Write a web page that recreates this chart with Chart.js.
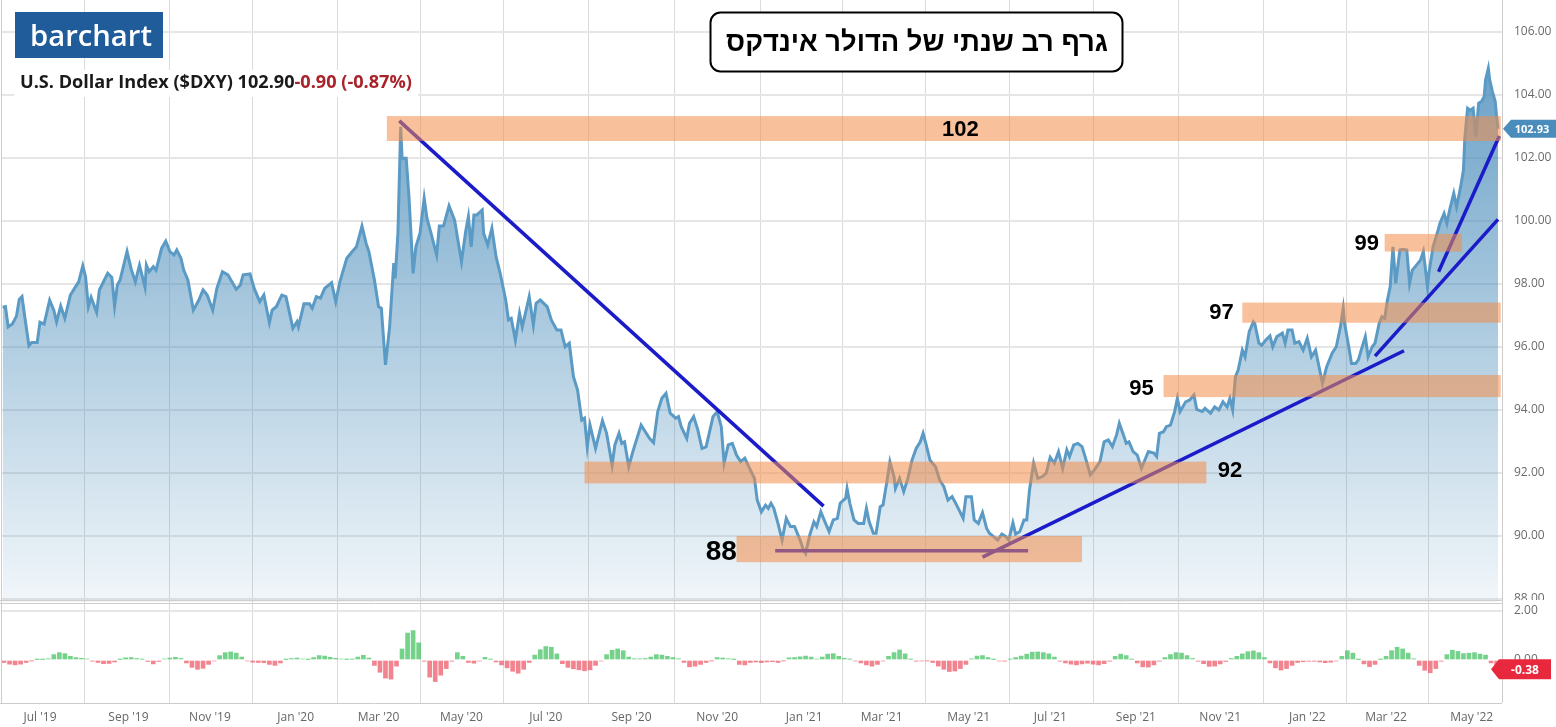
<!DOCTYPE html>
<html>
<head>
<meta charset="utf-8">
<script src="https://cdn.jsdelivr.net/npm/chart.js@4.4.1/dist/chart.umd.min.js"></script>
<style>
html,body{margin:0;padding:0;background:#fff;}
#wrap{position:relative;width:1556px;height:727px;}
canvas{display:block;}
</style>
</head>
<body>
<div id="wrap"><canvas id="c" width="1556" height="727"></canvas></div>
<script>
// ---------------- DATA ----------------
// time axis: days since 2019-07-01
const BASE_DATE = '2019-07-01';

// U.S. Dollar Index ($DXY) — sample days and closing values
const seriesDays = [
  -27,-25,-23,-20,-17,-15,-13,-11,-8,-6,
  -2,0,3,7,10,12,15,18,22,25,
  28,31,33,35,37,41,43,49,52,54,
  56,58,63,66,69,72,76,77,79,82,
  84,88,91,94,97,99,102,104,107,111,
  115,118,121,125,128,132,136,142,145,147,
  152,155,159,162,166,168,171,175,178,183,
  186,187,191,195,197,200,203,206,211,214,
  217,222,226,229,233,236,238,242,245,247,
  250,253,256,257,259,261,262,265,267,270,
  272,275,278,280,283,287,289,292,296,300,
  305,308,310,312,314,316,320,321,324,327,
  330,333,337,339,341,344,347,349,354,357,
  359,362,367,370,374,377,380,383,386,389,
  392,394,396,398,402,407,410,414,416,419,
  421,423,426,429,435,438,441,444,447,450,
  453,456,460,462,464,468,470,473,476,479,
  482,487,490,493,495,498,501,504,507,510,
  514,517,519,522,525,527,529,531,534,537,
  540,543,546,550,552,554,557,560,562,565,
  568,571,574,577,579,583,584,586,589,592,
  596,598,600,603,605,608,610,613,615,618,
  619,622,625,628,631,634,637,639,641,644,
  648,651,654,657,660,662,665,668,670,674,
  676,679,682,685,687,690,693,696,699,701,
  704,706,709,712,714,716,719,722,725,728,
  731,734,737,740,743,745,748,751,754,757,
  760,763,767,770,773,776,779,781,784,786,
  788,791,794,797,800,802,806,808,810,813,
  815,818,821,823,825,829,832,835,837,841,
  843,847,850,853,856,859,861,863,865,867,
  870,872,875,878,879,882,884,887,890,892,
  895,899,901,903,906,908,911,914,917,920,
  923,926,928,931,935,938,941,943,944,947,
  949,952,954,956,959,961,964,966,969,971,
  973,975,977,979,981,984,986,989,991,993,
  996,999,1001,1004,1005,1008,1011,1013,1016,1018,
  1020,1023,1025,1028,1030,1031,1033,1035,1037,1039,
  1041,1043,1045,1046,1048,1049,1051,1053,1054,1055
];
const dxyValues = [
  97.26,97.28,96.64,96.73,96.98,97.51,97.60,96.96,96.04,96.14,
  96.14,96.79,96.73,97.49,97.17,96.80,97.30,96.91,97.65,97.86,
  98.07,98.58,98.23,97.28,97.58,97.10,97.81,98.34,98.21,97.30,
  97.97,98.13,99.03,98.47,98.07,98.60,97.90,98.60,98.39,98.55,
  98.44,99.13,99.36,99.03,98.92,99.08,98.82,98.44,98.13,97.17,
  97.49,97.81,97.65,97.17,97.86,98.39,98.29,97.83,97.97,98.29,
  98.32,97.86,97.44,97.65,96.77,97.17,97.28,97.65,97.60,96.59,
  96.80,96.64,97.37,97.37,97.23,97.60,97.55,97.86,98.04,97.44,
  98.07,98.82,99.03,99.18,99.84,99.29,99.03,98.13,97.28,97.23,
  95.43,96.64,98.66,98.18,99.61,102.99,101.99,101.99,100.77,98.34,
  99.18,99.61,100.72,100.09,99.61,98.92,99.84,99.84,100.48,100.03,
  98.71,99.66,100.14,99.18,100.19,100.19,100.35,99.61,99.24,99.77,
  98.87,98.34,97.49,96.86,96.91,96.22,97.07,96.64,97.60,96.70,
  97.39,97.49,97.28,96.86,96.54,96.54,96.01,96.12,95.06,94.63,
  93.68,93.74,92.84,93.52,92.78,93.66,93.26,92.25,92.89,93.26,
  92.94,92.99,92.20,92.68,93.52,93.31,93.10,92.96,93.95,94.37,
  94.53,93.90,93.74,93.79,93.47,93.10,93.58,93.79,93.37,92.78,
  92.83,93.79,93.95,93.47,92.31,92.89,92.94,92.57,92.36,92.47,
  92.10,91.83,91.14,90.77,90.98,90.88,91.04,90.88,90.40,89.87,
  90.56,90.30,90.30,89.87,89.61,89.45,90.03,90.45,90.30,90.77,
  90.45,90.14,90.51,90.56,91.04,91.20,91.51,91.04,90.51,90.40,
  90.40,90.88,90.45,90.09,90.09,90.93,90.98,91.78,92.36,91.88,
  91.51,91.83,91.41,91.83,92.41,92.78,92.99,93.26,92.94,92.41,
  92.20,91.78,91.57,91.14,91.25,91.09,90.83,90.56,91.25,91.25,
  90.51,90.40,90.74,90.24,90.09,89.98,89.87,90.06,89.98,89.87,
  90.42,90.06,90.14,90.51,90.51,91.46,92.31,91.83,91.88,91.99,
  92.50,92.31,92.68,92.15,92.73,92.52,92.89,92.94,92.84,92.41,
  91.94,92.10,92.36,92.99,93.05,92.84,93.21,93.58,93.21,92.94,
  92.99,92.68,92.57,92.15,92.47,92.68,92.63,92.52,93.26,93.31,
  93.47,93.52,93.95,94.37,93.95,94.26,94.32,94.48,94.02,93.95,
  94.05,93.90,94.10,94.00,94.26,94.10,94.37,94.00,95.06,95.27,
  95.90,95.69,96.49,96.80,96.75,96.12,96.06,96.22,96.35,96.01,
  96.33,96.44,96.12,96.54,96.54,96.12,96.17,95.90,96.28,95.69,
  95.90,95.27,94.85,95.37,95.80,96.01,96.64,97.23,96.75,96.01,
  95.48,95.48,95.59,95.90,96.33,95.69,96.01,96.12,96.75,96.96,
  96.91,97.49,97.91,99.18,98.02,99.08,99.10,99.08,98.02,98.44,
  98.60,98.76,99.03,97.91,98.34,99.18,99.61,99.93,100.24,99.93,
  100.35,100.88,100.45,101.09,101.62,102.63,103.58,103.52,103.58,102.68,
  103.74,103.79,103.95,104.48,104.85,104.48,104.10,103.79,103.31,102.93
];

// lower pane oscillator histogram
const histDays = [
  -26,-22,-18,-14,-10,-6,-2,2,6,10,
  14,18,22,26,30,34,38,42,46,50,
  54,58,62,66,70,74,78,82,86,90,
  94,98,102,106,110,114,118,122,126,130,
  134,138,142,146,150,154,158,162,166,170,
  174,178,182,186,190,194,198,202,206,210,
  214,218,222,226,230,234,238,242,246,250,
  254,258,262,266,270,274,278,282,286,290,
  294,298,302,306,310,314,318,322,326,330,
  334,338,342,346,350,354,358,362,366,370,
  374,378,382,386,390,394,398,402,406,410,
  414,418,422,426,430,434,438,442,446,450,
  454,458,462,466,470,474,478,482,486,490,
  494,498,502,506,510,514,518,522,526,530,
  534,538,542,546,550,554,558,562,566,570,
  574,578,582,586,590,594,598,602,606,610,
  614,618,622,626,630,634,638,642,646,650,
  654,658,662,666,670,674,678,682,686,690,
  694,698,702,706,710,714,718,722,726,730,
  734,738,742,746,750,754,758,762,766,770,
  774,778,782,786,790,794,798,802,806,810,
  814,818,822,826,830,834,838,842,846,850,
  854,858,862,866,870,874,878,882,886,890,
  894,898,902,906,910,914,918,922,926,930,
  934,938,942,946,950,954,958,962,966,970,
  974,978,982,986,990,994,998,1002,1006,1010,
  1014,1018,1022,1026,1030,1034,1038,1042,1046,1050,
  1054
];
const histValues = [
  -0.10,-0.17,-0.20,-0.17,-0.10,-0.03,0.02,0.02,0.05,0.22,
  0.30,0.26,0.15,0.10,0.07,0.04,-0.05,-0.10,-0.15,-0.14,
  -0.08,0.02,0.09,0.10,0.06,0.03,-0.06,-0.16,-0.06,0.04,
  0.08,0.11,0.06,-0.12,-0.30,-0.38,-0.34,-0.18,-0.04,0.18,
  0.30,0.33,0.28,0.12,-0.04,-0.09,-0.10,-0.11,-0.18,-0.22,
  -0.12,0.02,0.06,0.08,0.04,0.02,0.10,0.18,0.16,0.11,
  0.07,0.04,0.02,0.03,0.12,0.19,0.08,-0.22,-0.50,-0.74,
  -0.78,-0.25,0.45,1.10,1.20,0.70,-0.05,-0.70,-0.88,-0.62,
  -0.35,-0.05,0.30,0.15,-0.10,-0.13,-0.04,0.11,0.03,-0.08,
  -0.20,-0.32,-0.46,-0.54,-0.38,-0.10,0.20,0.42,0.55,0.52,
  0.25,-0.15,-0.30,-0.36,-0.40,-0.44,-0.40,-0.22,-0.04,0.22,
  0.40,0.45,0.38,0.12,0.05,0.05,0.06,0.12,0.22,0.20,
  0.15,0.10,0.05,-0.10,-0.28,-0.25,-0.18,-0.10,-0.03,0.10,
  0.08,0.05,0.02,-0.18,-0.20,-0.10,-0.08,-0.11,-0.08,-0.07,
  -0.10,-0.03,0.09,0.10,0.13,0.16,0.12,0.04,0.12,0.24,
  0.26,0.15,0.07,0.03,-0.04,-0.12,-0.20,-0.25,-0.18,-0.04,
  0.15,0.30,0.41,0.25,0.03,-0.05,-0.04,-0.03,-0.10,-0.25,
  -0.38,-0.47,-0.45,-0.35,-0.18,0.05,0.16,0.18,0.10,0.02,
  -0.04,-0.05,0.03,0.10,0.16,0.24,0.32,0.33,0.30,0.25,
  0.12,-0.05,-0.12,-0.17,-0.20,-0.16,-0.13,-0.17,-0.20,-0.15,
  -0.05,0.15,0.24,0.18,0.03,-0.12,-0.28,-0.29,-0.20,-0.05,
  0.10,0.22,0.30,0.28,0.18,0.06,-0.05,-0.15,-0.26,-0.25,
  -0.16,-0.06,0.06,0.15,0.25,0.34,0.37,0.30,0.10,-0.12,
  -0.32,-0.41,-0.35,-0.22,-0.10,-0.07,-0.05,-0.05,-0.08,-0.11,
  -0.09,-0.04,0.15,0.38,0.28,0.02,-0.16,-0.27,-0.18,0.02,
  0.15,0.38,0.52,0.45,0.28,0.05,-0.22,-0.42,-0.52,-0.35,
  -0.05,0.22,0.40,0.35,0.26,0.28,0.30,0.24,0.20,-0.12,
  -0.38
];

// axis ticks
const tickDates = ['2019-07-01','2019-09-03','2019-11-01','2020-01-02','2020-03-02','2020-05-01',
  '2020-07-01','2020-09-01','2020-11-02','2021-01-04','2021-03-01','2021-05-03',
  '2021-07-01','2021-09-01','2021-11-01','2022-01-03','2022-03-01','2022-05-02'];
const tickLabels = ["Jul '19","Sep '19","Nov '19","Jan '20","Mar '20","May '20",
  "Jul '20","Sep '20","Nov '20","Jan '21","Mar '21","May '21",
  "Jul '21","Sep '21","Nov '21","Jan '22","Mar '22","May '22"];
const priceTicks = [88, 90, 92, 94, 96, 98, 100, 102, 104, 106];
const histTicks = [0, 2];

// support / resistance zones
const zoneLabels = ['102', '92', '88', '95', '97', '99'];
const zoneStartDay = [251, 394, 504, 813, 870, 973];
const zoneEndDay = [1057, 844, 754, 1057, 1057, 1029];
const zoneLow = [102.54, 91.67, 89.17, 94.41, 96.77, 99.03];
const zoneHigh = [103.33, 92.36, 90.00, 95.11, 97.41, 99.59];
// zone label anchors (data coordinates)
const zoneLabelDay = [666, 861, 493, 797, 855, 960];
const zoneLabelValue = [102.92, 92.10, 89.52, 94.70, 97.10, 99.30];

// hand-drawn trend lines
const trendFromDay = [260, 532, 682, 966, 1012];
const trendFromValue = [103.18, 89.53, 89.33, 95.71, 98.39];
const trendToDay = [567, 715, 987, 1055, 1056];
const trendToValue = [90.95, 89.53, 95.88, 100.05, 102.70];

const lastPrice = 102.93;
const lastHist = -0.38;
const titleText = 'גרף רב שנתי של הדולר אינדקס';
const symbolText = 'U.S. Dollar Index ($DXY) 102.90';
const changeText = '-0.90 (-0.87%)';

// ---------------- CHART ----------------
const dayMs = 86400000;
const baseMs = Date.parse(BASE_DATE + 'T00:00:00Z');
const tickDays = tickDates.map(d => Math.round((Date.parse(d + 'T00:00:00Z') - baseMs) / dayMs));

const FONT = '"Open Sans", "Liberation Sans", sans-serif';
const BOLDFONT = '"Liberation Sans", Arial, sans-serif';

const lineData = seriesDays.map((d, i) => ({x: d, y: dxyValues[i]}));
const histData = histDays.map((d, i) => ({x: d, y: histValues[i]}));

const trendSets = trendFromDay.map((d, i) => ({
  type: 'line',
  data: [{x: d, y: trendFromValue[i]}, {x: trendToDay[i], y: trendToValue[i]}],
  borderColor: '#1b1bc9',
  borderWidth: 3.5,
  pointRadius: 0,
  fill: false,
  yAxisID: 'y',
  order: 0
}));

function fitFont(c, text, weight, size, family, target) {
  c.font = weight + ' ' + size + 'px ' + family;
  const w = c.measureText(text).width;
  const s = size * target / w;
  c.font = weight + ' ' + s.toFixed(2) + 'px ' + family;
}

const overlay = {
  id: 'overlay',
  beforeDraw(chart) {
    const c = chart.ctx;
    c.save();
    c.fillStyle = '#ffffff';
    c.fillRect(0, 0, chart.width, chart.height);
    c.restore();
  },
  afterDatasetsDraw(chart) {
    const c = chart.ctx;
    const {x, y} = chart.scales;
    const area = chart.chartArea;
    c.save();
    c.beginPath();
    c.rect(area.left, y.top, area.right - area.left, y.bottom - y.top);
    c.clip();
    c.fillStyle = 'rgba(242,140,72,0.55)';
    zoneLabels.forEach((lab, i) => {
      const x0 = x.getPixelForValue(zoneStartDay[i]);
      const x1 = x.getPixelForValue(zoneEndDay[i]);
      const y0 = y.getPixelForValue(zoneHigh[i]);
      const y1 = y.getPixelForValue(zoneLow[i]);
      c.fillRect(x0, y0, x1 - x0, y1 - y0);
    });
    c.fillStyle = '#000';
    c.textAlign = 'center';
    c.textBaseline = 'middle';
    zoneLabels.forEach((lab, i) => {
      const size = lab === '88' ? 28 : 22;
      c.font = 'bold ' + size + 'px ' + BOLDFONT;
      c.fillText(lab, x.getPixelForValue(zoneLabelDay[i]), y.getPixelForValue(zoneLabelValue[i]) + 1);
    });
    c.restore();
  },
  afterDraw(chart) {
    const c = chart.ctx;
    const {x, y, y2} = chart.scales;
    const area = chart.chartArea;
    c.save();
    // pane separator
    c.fillStyle = '#ffffff';
    c.fillRect(area.right + 1, y.bottom - 2, chart.width - area.right, 5);
    c.strokeStyle = '#cfcfcf';
    c.lineWidth = 1;
    c.beginPath();
    c.moveTo(0, y.bottom - 1.5); c.lineTo(area.right, y.bottom - 1.5);
    c.moveTo(0, y.bottom + 1.5); c.lineTo(area.right, y.bottom + 1.5);
    c.stroke();
    // frame
    c.strokeStyle = '#cccccc';
    c.beginPath();
    c.moveTo(area.right + 0.5, 0); c.lineTo(area.right + 0.5, area.bottom);
    c.moveTo(0, area.bottom + 0.5); c.lineTo(area.right, area.bottom + 0.5);
    c.moveTo(1.5, 0); c.lineTo(1.5, area.bottom);
    c.stroke();

    // logo
    c.fillStyle = '#1f5c99';
    c.fillRect(15, 12, 148, 46);
    c.fillStyle = '#ffffff';
    c.textAlign = 'left';
    c.textBaseline = 'alphabetic';
    fitFont(c, 'barchart', '600', 31, FONT, 122);
    c.fillText('barchart', 30, 46);

    // symbol line
    c.fillStyle = '#ffffff';
    c.fillRect(14, 70, 404, 27);
    fitFont(c, symbolText + changeText, '700', 16, FONT, 392);
    c.textBaseline = 'middle';
    c.fillStyle = '#1a1a1a';
    c.fillText(symbolText, 20, 83);
    const w1 = c.measureText(symbolText).width;
    c.fillStyle = '#a8232a';
    c.fillText(changeText, 20 + w1, 83);

    // title box
    c.fillStyle = '#ffffff';
    c.strokeStyle = '#000000';
    c.lineWidth = 2;
    c.beginPath();
    c.roundRect(710.5, 12.5, 412, 59, 10);
    c.fill();
    c.stroke();
    c.fillStyle = '#000';
    c.textAlign = 'center';
    c.textBaseline = 'middle';
    c.direction = 'rtl';
    fitFont(c, titleText, 'bold', 28, BOLDFONT, 382);
    c.fillText(titleText, 917, 43);
    c.direction = 'ltr';

    // last price badge
    const py = y.getPixelForValue(lastPrice);
    c.fillStyle = '#4a8dbd';
    c.beginPath();
    c.moveTo(area.right + 1, py);
    c.lineTo(area.right + 9, py - 9);
    c.lineTo(chart.width, py - 9);
    c.lineTo(chart.width, py + 9);
    c.lineTo(area.right + 9, py + 9);
    c.closePath();
    c.fill();
    c.fillStyle = '#fff';
    c.font = 'bold 11px ' + FONT;
    c.textAlign = 'center';
    c.fillText(lastPrice.toFixed(2), 1532, py + 1);

    // last histogram badge
    const hy = y2.getPixelForValue(lastHist);
    c.fillStyle = '#e8283c';
    c.beginPath();
    c.moveTo(area.right - 11, hy);
    c.lineTo(area.right - 3, hy - 10);
    c.lineTo(1551, hy - 10);
    c.lineTo(1551, hy + 10);
    c.lineTo(area.right - 3, hy + 10);
    c.closePath();
    c.fill();
    c.fillStyle = '#fff';
    c.font = 'bold 12px ' + FONT;
    c.fillText(lastHist.toFixed(2), 1525, hy + 1);
    c.restore();
  }
};

const tickFont = {family: FONT, size: 12};

new Chart(document.getElementById('c'), {
  type: 'line',
  data: {
    datasets: [
      ...trendSets,
      {
        type: 'bar',
        data: histData,
        backgroundColor: histValues.map(v => v >= 0 ? 'rgba(70,195,100,0.75)' : 'rgba(236,84,100,0.72)'),
        barThickness: 4,
        yAxisID: 'y2',
        order: 1
      },
      {
        type: 'line',
        data: lineData,
        borderColor: '#5a9ac4',
        borderWidth: 3,
        pointRadius: 0,
        tension: 0,
        fill: 'start',
        backgroundColor: (ctx) => {
          const ch = ctx.chart;
          if (!ch.chartArea || !ch.scales.y) return 'rgba(70,138,185,0.4)';
          const sy = ch.scales.y;
          const g = ch.ctx.createLinearGradient(0, sy.getPixelForValue(105), 0, sy.getPixelForValue(88));
          g.addColorStop(0, 'rgba(70,138,185,0.80)');
          g.addColorStop(1, 'rgba(70,138,185,0.08)');
          return g;
        },
        yAxisID: 'y',
        order: 2
      }
    ]
  },
  options: {
    responsive: false,
    animation: false,
    devicePixelRatio: 1,
    layout: {padding: {left: 1, right: 0, top: 0, bottom: 0}},
    plugins: {legend: {display: false}, tooltip: {enabled: false}},
    scales: {
      x: {
        type: 'linear',
        min: -28.2,
        max: 1057.9,
        offset: false,
        afterBuildTicks: s => { s.ticks = tickDays.map(v => ({value: v})); },
        afterFit: s => { s.height = 24; s.paddingLeft = 0; s.paddingRight = 0; },
        grid: {color: 'rgba(0,0,0,0.14)', lineWidth: 1, drawTicks: false},
        border: {display: false},
        ticks: {
          autoSkip: false, maxRotation: 0, padding: 7, color: '#666666', font: tickFont,
          callback: (v, i) => tickLabels[i]
        }
      },
      y: {
        type: 'linear',
        position: 'right',
        stack: 'panes',
        stackWeight: 602,
        min: 87.905,
        max: 107.016,
        afterBuildTicks: s => { s.ticks = priceTicks.map(v => ({value: v})); },
        afterFit: s => { s.width = 54; s.paddingTop = 0; s.paddingBottom = 0; },
        grid: {color: '#e6e6e6', lineWidth: 2, drawTicks: false},
        border: {display: false},
        ticks: {padding: 12, color: '#6b6b6b', font: tickFont, callback: v => Number(v).toFixed(2)}
      },
      y2: {
        type: 'linear',
        position: 'right',
        stack: 'panes',
        stackWeight: 101,
        min: -1.755,
        max: 2.367,
        afterBuildTicks: s => { s.ticks = histTicks.map(v => ({value: v})); },
        afterFit: s => { s.width = 54; s.paddingTop = 0; s.paddingBottom = 0; },
        grid: {
          color: ctx => (ctx.tick && ctx.tick.value === 2) ? '#e6e6e6' : 'rgba(0,0,0,0)',
          lineWidth: 2, drawTicks: false
        },
        border: {display: false},
        ticks: {padding: 12, color: '#6b6b6b', font: tickFont, callback: v => Number(v).toFixed(2)}
      }
    }
  },
  plugins: [overlay]
});
</script>
</body>
</html>
